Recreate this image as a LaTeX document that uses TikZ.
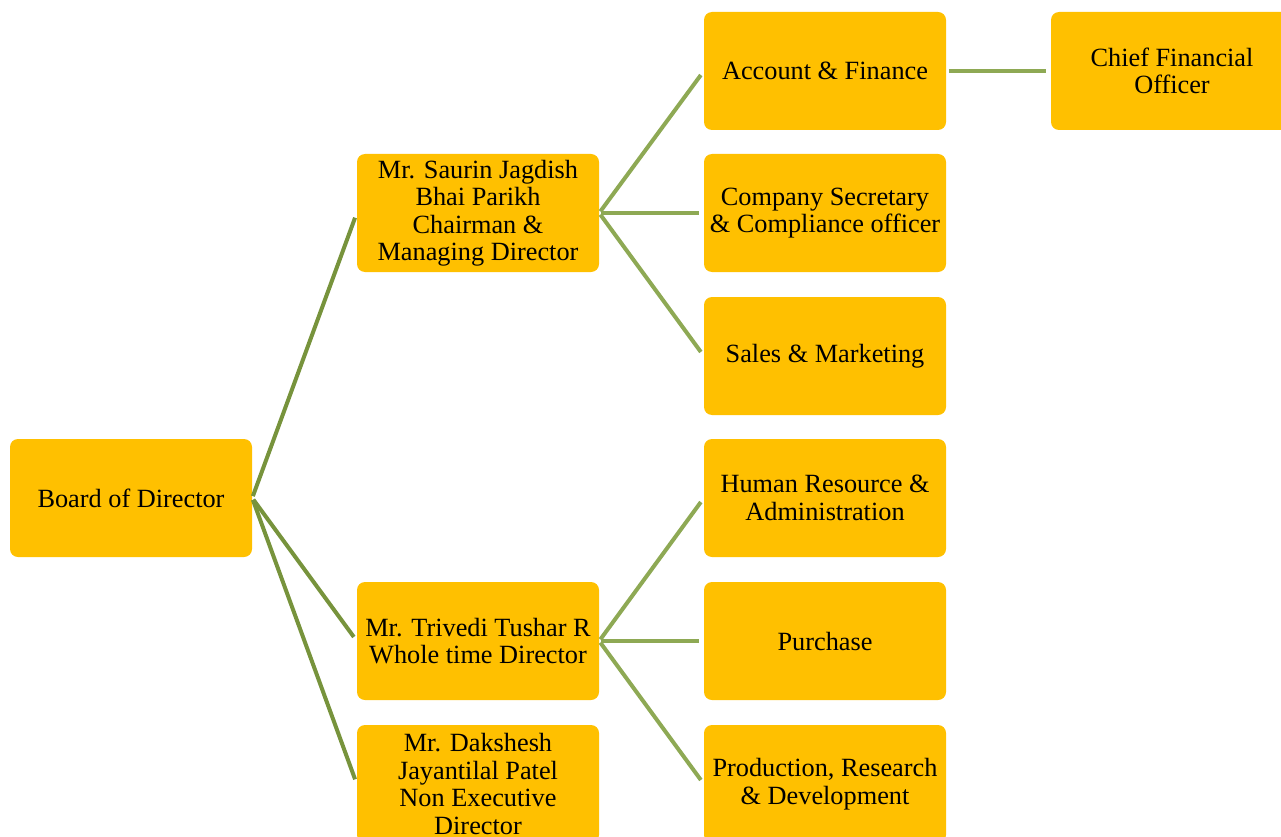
\documentclass[tikz,border=0pt]{standalone}
\usepackage{fontspec}
\setmainfont{Liberation Serif}
\definecolor{boxfill}{HTML}{FFC000}
\definecolor{lineA}{HTML}{77933C}
\definecolor{lineB}{HTML}{8EA954}
\begin{document}
\begin{tikzpicture}[x=1pt,y=-1pt,
  box/.style={draw=none,fill=boxfill,rounded corners=8pt,minimum width=242pt,minimum height=118pt,
    inner sep=0pt,align=center,font=\fontsize{26.3pt}{27.5pt}\selectfont,text=black},
  linkA/.style={draw=lineA,line width=4pt,shorten <=2pt,shorten >=5pt},
  linkB/.style={draw=lineB,line width=4pt,shorten <=2pt,shorten >=5pt}]
\useasboundingbox (0,0) rectangle (1281,837);
\clip (0,0) rectangle (1281,837);
\node[box] (bod) at (131,498) {Board of Director};
\node[box] (saurin) at (478,213) {Mr. Saurin Jagdish\\Bhai Parikh\\Chairman \&\\Managing Director};
\node[box] (trivedi) at (478,641) {Mr. Trivedi Tushar R\\Whole time Director};
\node[box] (dak) at (478,784) {Mr. Dakshesh\\Jayantilal Patel\\Non Executive\\Director};
\node[box] (acc) at (825,71) {Account \& Finance};
\node[box] (cs) at (825,213) {Company Secretary\\\& Compliance officer};
\node[box] (sales) at (825,356) {Sales \& Marketing};
\node[box] (hr) at (825,498) {Human Resource \&\\Administration};
\node[box] (pur) at (825,641) {Purchase};
\node[box] (prod) at (825,784) {Production, Research\\\& Development};
\node[box] (cfo) at (1172,71) {Chief Financial\\Officer};
\draw[linkA] (bod.east) -- (saurin.west);
\draw[linkA] (bod.east) -- (trivedi.west);
\draw[linkA] (bod.east) -- (dak.west);
\draw[linkB] (saurin.east) -- (acc.west);
\draw[linkB] (saurin.east) -- (cs.west);
\draw[linkB] (saurin.east) -- (sales.west);
\draw[linkB] (trivedi.east) -- (hr.west);
\draw[linkB] (trivedi.east) -- (pur.west);
\draw[linkB] (trivedi.east) -- (prod.west);
\draw[linkB,shorten <=3pt] (acc.east) -- (cfo.west);
\end{tikzpicture}
\end{document}
